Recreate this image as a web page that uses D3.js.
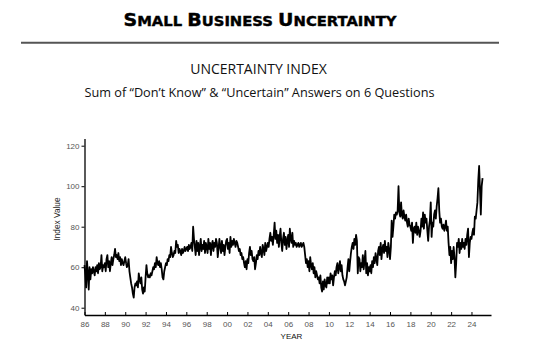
<!DOCTYPE html>
<html>
<head>
<meta charset="utf-8">
<script src="https://cdn.jsdelivr.net/npm/d3@7"></script>
<style>
  body { margin: 0; background: #fff; }
  svg { display: block; }
</style>
</head>
<body>
<svg id="chart" width="551" height="350" viewBox="0 0 551 350"></svg>
<script>
'use strict';

// monthly index values, Jan 1986 .. Feb 2025
var firstMonth = '1986-01';
var indexValues = [
  61, 56, 50, 63, 57, 49, 60, 54, 59, 57, 60, 58, // 1986
  56, 60, 58, 61, 57, 62, 59, 60, 66, 58, 61, 60, // 1987
  62, 58, 64, 66, 60, 63, 58, 62, 65, 61, 64, 66, // 1988
  69, 65, 66, 64, 67, 63, 65, 61, 64, 62, 61, 63, // 1989
  65, 62, 60, 61, 64, 58, 55, 52, 50, 47, 45, 50, // 1990
  52, 51, 53, 50, 57, 54, 52, 55, 49, 47, 50, 48, // 1991
  55, 61, 57, 55, 56, 55, 57, 56, 58, 60, 59, 62, // 1992
  60, 65, 62, 61, 63, 60, 62, 59, 55, 54, 58, 60, // 1993
  62, 61, 64, 63, 66, 65, 70, 67, 65, 66, 68, 67, // 1994
  73, 70, 71, 67, 69, 68, 66, 69, 67, 68, 70, 68, // 1995
  69, 70, 68, 71, 69, 70, 72, 68, 80, 74, 70, 66, // 1996
  73, 68, 72, 66, 70, 74, 68, 71, 69, 73, 67, 72, // 1997
  70, 67, 74, 69, 72, 66, 71, 73, 68, 72, 70, 74, // 1998
  72, 65, 69, 74, 70, 67, 73, 68, 71, 66, 70, 73, // 1999
  74, 69, 72, 67, 75, 70, 73, 71, 74, 72, 70, 73, // 2000
  72, 70, 68, 69, 66, 67, 64, 65, 62, 60, 63, 59, // 2001
  64, 62, 67, 70, 66, 68, 64, 63, 65, 59, 62, 66, // 2002
  64, 68, 66, 70, 67, 65, 71, 69, 66, 72, 68, 70, // 2003
  72, 70, 74, 77, 73, 75, 71, 76, 82, 74, 78, 72, // 2004
  76, 70, 75, 79, 72, 68, 74, 77, 71, 75, 69, 73, // 2005
  76, 70, 79, 74, 72, 77, 70, 73, 71, 72, 70, 71, // 2006
  72, 70, 71, 72, 70, 71, 72, 70, 66, 62, 64, 60, // 2007
  63, 58, 65, 61, 59, 62, 57, 60, 55, 58, 56, 54, // 2008
  55, 52, 56, 50, 48, 53, 49, 54, 51, 50, 55, 52, // 2009
  55, 52, 57, 54, 56, 51, 55, 58, 56, 60, 62, 57, // 2010
  60, 63, 58, 61, 56, 54, 53, 51, 53, 55, 60, 64, // 2011
  58, 63, 67, 70, 72, 69, 74, 71, 76, 73, 57, 65, // 2012
  64, 58, 62, 60, 66, 59, 63, 68, 57, 62, 56, 60, // 2013
  58, 61, 57, 63, 60, 65, 62, 67, 64, 61, 68, 70, // 2014
  66, 72, 64, 69, 71, 67, 73, 68, 70, 65, 72, 69, // 2015
  64, 70, 83, 75, 80, 86, 84, 87, 86, 88, 100, 87, // 2016
  85, 92, 86, 84, 88, 85, 83, 86, 82, 80, 84, 81, // 2017
  80, 78, 82, 72, 79, 80, 77, 82, 76, 80, 78, 75, // 2018
  78, 84, 80, 87, 79, 86, 82, 84, 78, 73, 80, 83, // 2019
  92, 75, 82, 80, 86, 88, 84, 90, 94, 99, 88, 82, // 2020
  84, 80, 79, 81, 78, 80, 83, 78, 80, 72, 66, 70, // 2021
  62, 68, 64, 70, 65, 55, 62, 72, 70, 74, 67, 72, // 2022
  69, 74, 70, 72, 69, 74, 71, 76, 79, 65, 72, 75, // 2023
  74, 77, 79, 76, 85, 84, 88, 92, 103, 110, 98, 86, // 2024
  100, 104 // 2025
];
var yTicks = [40, 60, 80, 100, 120];
var xTickYears = d3.range(1986, 2025, 2);

var svg = d3.select('#chart');
var parseMonth = d3.timeParse('%Y-%m');
var start = parseMonth(firstMonth);

var data = indexValues.map(function (v, i) {
  return { date: d3.timeMonth.offset(start, i), value: v };
});

var x = d3.scaleTime()
  .domain([new Date(1986, 0, 1), new Date(2025, 11, 1)])
  .range([84.5, 491]);
var y = d3.scaleLinear()
  .domain([36.4, 123.6])
  .range([315, 138.4]);

// header
var title = svg.append('text')
  .attr('x', 260).attr('y', 25.7)
  .attr('text-anchor', 'middle')
  .attr('font-family', 'DejaVu Sans, sans-serif')
  .attr('font-weight', 'bold')
  .attr('fill', '#000')
  .attr('stroke', '#000')
  .attr('stroke-width', 0.4)
  .attr('textLength', 273)
  .attr('lengthAdjust', 'spacingAndGlyphs');
[['S', 18], ['MALL ', 14], ['B', 18], ['USINESS ', 14], ['U', 18], ['NCERTAINTY', 14]].forEach(function (p) {
  title.append('tspan').attr('font-size', p[1]).text(p[0]);
});

svg.append('line')
  .attr('x1', 21).attr('x2', 499)
  .attr('y1', 42.7).attr('y2', 42.7)
  .attr('stroke', '#555').attr('stroke-width', 2);

svg.append('text')
  .attr('x', 258.5).attr('y', 74.3)
  .attr('text-anchor', 'middle')
  .attr('font-family', 'Open Sans, sans-serif')
  .attr('font-size', 14)
  .attr('fill', '#111')
  .text('UNCERTAINTY INDEX');

svg.append('text')
  .attr('x', 259.5).attr('y', 97)
  .attr('text-anchor', 'middle')
  .attr('font-family', 'Open Sans, sans-serif')
  .attr('font-size', 12.7)
  .attr('fill', '#111')
  .text('Sum of \u201cDon\u2019t Know\u201d & \u201cUncertain\u201d Answers on 6 Questions');

// axes
var xAxis = d3.axisBottom(x)
  .tickValues(xTickYears.map(function (yr) { return new Date(yr, 0, 1); }))
  .tickFormat(d3.timeFormat('%y'))
  .tickSizeInner(-3)
  .tickSizeOuter(0)
  .tickPadding(6);

var yAxis = d3.axisLeft(y)
  .tickValues(yTicks)
  .tickSizeInner(3)
  .tickSizeOuter(0)
  .tickPadding(2);

var gx = svg.append('g').attr('transform', 'translate(0,315)').call(xAxis);
var gy = svg.append('g').attr('transform', 'translate(84.5,0)').call(yAxis);

[gx, gy].forEach(function (g) {
  g.select('.domain').attr('stroke', '#000').attr('stroke-width', 1.3);
  g.selectAll('.tick line').attr('stroke', '#000');
  g.selectAll('.tick text')
    .attr('fill', '#555')
    .attr('font-family', 'Liberation Sans, Arial, sans-serif')
    .attr('font-size', 8);
});

svg.append('text')
  .attr('transform', 'translate(59.5,219) rotate(-90)')
  .attr('text-anchor', 'middle')
  .attr('font-family', 'Liberation Sans, Arial, sans-serif')
  .attr('font-size', 8.3)
  .attr('fill', '#222')
  .text('Index Value');

svg.append('text')
  .attr('x', 291.5).attr('y', 338.5)
  .attr('text-anchor', 'middle')
  .attr('font-family', 'Liberation Sans, Arial, sans-serif')
  .attr('font-size', 8)
  .attr('fill', '#111')
  .text('YEAR');

// series
var line = d3.line()
  .x(function (d) { return x(d.date); })
  .y(function (d) { return y(d.value); });

svg.append('path')
  .datum(data)
  .attr('fill', 'none')
  .attr('stroke', '#000')
  .attr('stroke-width', 1.8)
  .attr('stroke-linejoin', 'round')
  .attr('d', line);
</script>
</body>
</html>
